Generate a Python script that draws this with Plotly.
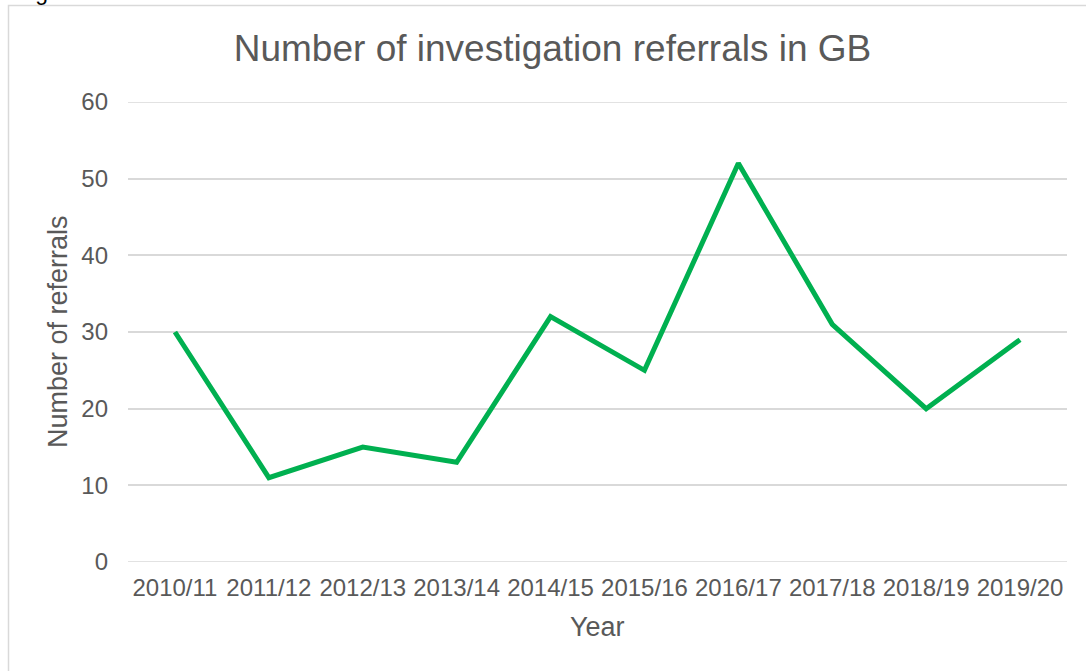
import plotly.graph_objects as go

years = ["2010/11", "2011/12", "2012/13", "2013/14", "2014/15",
         "2015/16", "2016/17", "2017/18", "2018/19", "2019/20"]
referrals = [30, 11, 15, 13, 32, 25, 52, 31, 20, 29]
y_ticks = [0, 10, 20, 30, 40, 50, 60]

FONT = "Liberation Sans, Arial, sans-serif"
GREY = "#595959"
GRID = "#D9D9D9"

W, H = 1086, 671
OFF = 0  # body margin removed by post_script
# plot area in page pixels: x 128..1067, y 102..562
L = 128 - OFF
T = 102 - OFF
R = W - (1067 - OFF)
B = H - (562 - OFF)
pw, ph = W - L - R, H - T - B


def px_x(page_x):
    return (page_x - OFF - L) / pw


def px_y(page_y):
    return (H - B - (page_y - OFF)) / ph


fig = go.Figure()
fig.add_trace(go.Scatter(
    x=years, y=referrals, mode="lines",
    line=dict(color="#00B050", width=5),
    hoverinfo="x+y",
))

edge_lines = [dict(type="line", xref="paper", yref="y", x0=0, x1=1,
                   y0=v, y1=v, line=dict(color=GRID, width=1.5),
                   layer="below") for v in (y_ticks[0], y_ticks[-1])]

fig.update_layout(
    width=W, height=H,
    margin=dict(l=L, r=R, t=T, b=B, pad=0),
    paper_bgcolor="white", plot_bgcolor="rgba(0,0,0,0)",
    showlegend=False,
    font=dict(family=FONT, color=GREY, size=24),
    title=dict(text="Number of investigation referrals in GB",
               x=(552.5 - OFF) / W, xref="container", xanchor="center",
               y=1 - (48 - OFF) / H, yref="container", yanchor="middle",
               font=dict(family=FONT, size=37, color=GREY)),
    xaxis=dict(type="category", showgrid=False, zeroline=False,
               showline=False, ticks="", tickfont=dict(size=24, color=GREY),
               ticklabelstandoff=9, range=[-0.5, 9.5]),
    yaxis=dict(range=[0, 60], tickvals=y_ticks, showgrid=True,
               gridcolor=GRID, gridwidth=1.5, zeroline=False,
               showline=False, ticks="", tickfont=dict(size=24, color=GREY),
               ticklabelstandoff=19),
    shapes=edge_lines + [
        dict(type="rect", xref="paper", yref="paper",
             x0=px_x(8.5), x1=px_x(1097), y0=px_y(5.5), y1=px_y(700),
             line=dict(color=GRID, width=1.5), fillcolor="rgba(0,0,0,0)",
             layer="below"),
    ],
    annotations=[
        dict(text="Year", xref="paper", yref="paper", x=0.5, y=px_y(627),
             xanchor="center", yanchor="middle", showarrow=False,
             font=dict(family=FONT, size=27, color=GREY)),
        dict(text="Number of referrals", xref="paper", yref="paper",
             x=px_x(58), y=0.5, xanchor="center", yanchor="middle",
             textangle=-90, showarrow=False,
             font=dict(family=FONT, size=27, color=GREY)),
        dict(text="Figure", xref="paper", yref="paper", x=px_x(14),
             y=px_y(-8), xanchor="left", yanchor="middle", showarrow=False,
             font=dict(family=FONT, size=23, color="black")),
    ],
)

fig.write_html("out.html",
               config={"displayModeBar": False},
               post_script="document.body.style.margin='0';")
